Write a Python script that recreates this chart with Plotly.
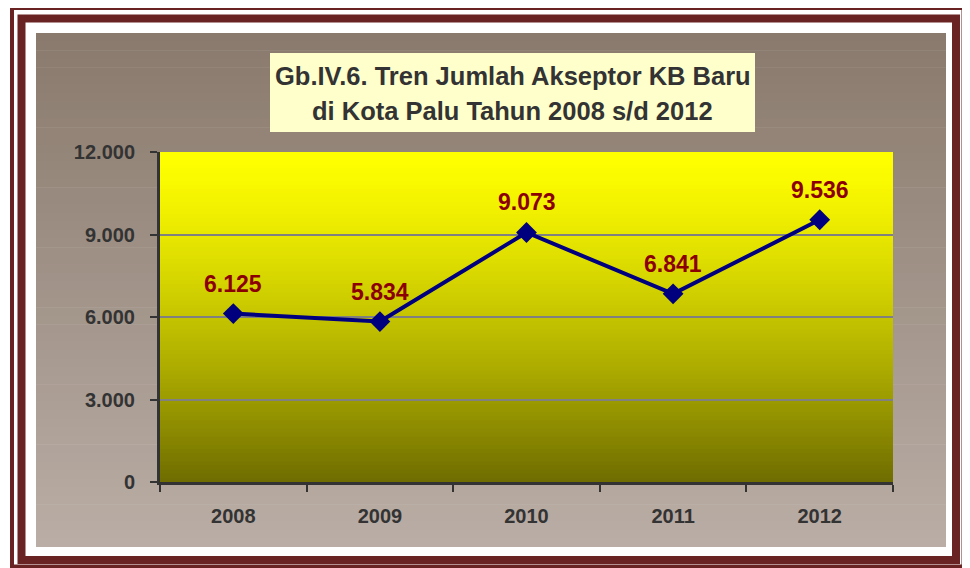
import plotly.graph_objects as go

years = ["2008", "2009", "2010", "2011", "2012"]
acceptors = [6125, 5834, 9073, 6841, 9536]
y_ticks = [0, 3000, 6000, 9000, 12000]
y_tick_labels = ["0", "3.000", "6.000", "9.000", "12.000"]
title_lines = ["Gb.IV.6. Tren Jumlah Akseptor KB Baru", "di Kota Palu Tahun 2008 s/d 2012"]

OFF = 8  # page body margin
W, H = 970 - OFF, 568 - OFF
# plot area in window pixels: x 160..893, y 152..482
ML, MT = 160 - OFF, 152 - OFF
MR, MB = W - (893 - OFF), H - (482 - OFF)
PW, PH = W - ML - MR, H - MT - MB
FONT = "Liberation Sans, Arial, sans-serif"


def px(x):
    return (x - OFF - ML) / PW


def py(y):
    return (H - MB - (y - OFF)) / PH


def lerp(c1, c2, t):
    return "rgb(%d,%d,%d)" % tuple(round(a + (b - a) * t) for a, b in zip(c1, c2))


shapes = []
# panel gradient
PX0, PY0, PX1, PY1 = 36, 33, 946, 547
n = 60
top_c, bot_c = (0x8a, 0x7a, 0x6d), (0xb9, 0xad, 0xa5)
for i in range(n):
    y0 = PY0 + (PY1 - PY0) * i / n
    y1 = min(PY0 + (PY1 - PY0) * (i + 1) / n + 0.6, PY1)
    shapes.append(dict(type="rect", xref="paper", yref="paper", layer="below",
                       x0=px(PX0), x1=px(PX1), y0=py(y1), y1=py(y0),
                       fillcolor=lerp(top_c, bot_c, i / (n - 1)), line=dict(width=0)))
# plot area gradient
m = 80
ptop, pbot = (0xff, 0xff, 0x00), (0x70, 0x6e, 0x00)
for i in range(m):
    f0 = i / m
    f1 = min((i + 1) / m + 0.004, 1)
    t = (i / (m - 1)) ** 1.3
    shapes.append(dict(type="rect", xref="paper", yref="paper", layer="below",
                       x0=0, x1=1, y0=1 - f1, y1=1 - f0,
                       fillcolor=lerp(ptop, pbot, t), line=dict(width=0)))
# title box
shapes.append(dict(type="rect", xref="paper", yref="paper", layer="above",
                   x0=px(270), x1=px(755), y0=py(132), y1=py(53),
                   fillcolor="#ffffcc", line=dict(width=0)))
# borders
shapes.append(dict(type="rect", xref="paper", yref="paper", layer="above",
                   x0=px(12), x1=px(963.5), y0=py(566.5), y1=py(8),
                   line=dict(color="#6a2323", width=4)))
shapes.append(dict(type="rect", xref="paper", yref="paper", layer="above",
                   x0=px(21.5), x1=px(956), y0=py(560), y1=py(18.5),
                   line=dict(color="#6a2323", width=8)))

fig = go.Figure()
fig.add_trace(go.Scatter(
    x=years, y=acceptors, mode="lines+markers",
    line=dict(color="#00007f", width=4),
    marker=dict(symbol="diamond", size=16, color="#00007f"),
    hoverinfo="skip", showlegend=False,
))

annotations = []
for i, v in enumerate(acceptors):
    annotations.append(dict(x=i, y=v, xref="x", yref="y",
                            text="<b>" + f"{v:,}".replace(",", ".") + "</b>",
                            showarrow=False, yshift=30, yanchor="middle",
                            font=dict(family=FONT, size=23, color="#8b0000")))
for line, yc in zip(title_lines, [76, 111]):
    annotations.append(dict(x=px(512.5), y=py(yc), xref="paper", yref="paper",
                            text="<b>" + line + "</b>", showarrow=False,
                            yanchor="middle", xanchor="center",
                            font=dict(family=FONT, size=25.5, color="#333333")))

tickfont = dict(size=20, color="#333333", family=FONT, weight="bold")
fig.update_layout(
    width=W, height=H,
    margin=dict(l=ML, r=MR, t=MT, b=MB),
    paper_bgcolor="white",
    plot_bgcolor="rgba(0,0,0,0)",
    shapes=shapes,
    annotations=annotations,
    font=dict(family=FONT, color="#333333"),
    xaxis=dict(type="category", range=[-0.5, 4.5], showgrid=False,
               showline=True, linecolor="#333333", linewidth=3,
               ticks="outside", tickson="boundaries", ticklen=7, tickwidth=2, tickcolor="#333333",
               ticklabelstandoff=14, tickfont=tickfont),
    yaxis=dict(range=[0, 12000], tickvals=y_ticks, ticktext=y_tick_labels,
               showgrid=True, gridcolor="#808080", gridwidth=2, zeroline=False,
               showline=True, linecolor="#333333", linewidth=3,
               ticks="outside", ticklen=7, tickwidth=2, tickcolor="#333333",
               ticklabelstandoff=11, tickfont=tickfont),
)

fig.write_html("out.html")
